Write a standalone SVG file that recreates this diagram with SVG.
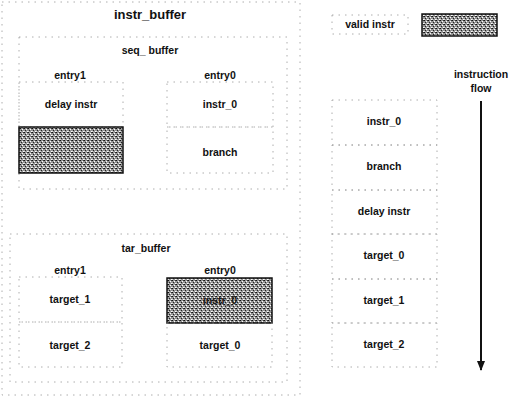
<svg xmlns="http://www.w3.org/2000/svg" width="516" height="398" viewBox="0 0 516 398">
<style>
  text { font-family: "Liberation Sans", Arial, sans-serif; font-weight: bold; fill: #111; text-anchor: middle; }
  .t { font-size: 10.5px; }
  .title { font-size: 13px; }
  .box { fill: none; stroke: #999; stroke-width: 0.8; stroke-dasharray: 1.5 5; }
  .gray { fill: url(#halftone); stroke: #111; stroke-width: 1.5; }
</style>
<defs>
  <pattern id="halftone" width="4" height="4" patternUnits="userSpaceOnUse">
    <rect width="4" height="4" fill="#959595"/>
    <rect x="0" y="0" width="1" height="1" fill="#111"/>
    <rect x="2" y="1" width="1" height="1" fill="#fff"/>
    <rect x="1" y="2" width="1" height="1" fill="#222"/>
    <rect x="3" y="3" width="1" height="1" fill="#fff"/>
    <rect x="3" y="0" width="1" height="1" fill="#333"/>
    <rect x="0" y="3" width="1" height="1" fill="#ddd"/>
  </pattern>
  <marker id="arrow" viewBox="0 0 10 10" refX="9" refY="5" markerWidth="5" markerHeight="5" orient="auto">
    <path d="M0,1 L10,5 L0,9 Z" fill="#111"/>
  </marker>
</defs>

<g id="instr_buffer">
  <rect class="box" x="2" y="2" width="298" height="393"/>
  <text class="title" x="150" y="19">instr_buffer</text>
</g>

<g id="seq_buffer">
  <rect class="box" x="19" y="37" width="268" height="152"/>
  <text class="t" x="150" y="54">seq_ buffer</text>
  <text class="t" x="70" y="79">entry1</text>
  <text class="t" x="220" y="79">entry0</text>
</g>
<g id="seq_entry1">
  <rect class="box" x="19" y="82" width="104" height="45"/>
  <text class="t" x="71" y="108">delay instr</text>
  <rect class="gray" x="19" y="127" width="104" height="46"/>
</g>
<g id="seq_entry0">
  <rect class="box" x="167" y="82" width="106" height="45"/>
  <text class="t" x="220" y="108">instr_0</text>
  <rect class="box" x="167" y="127" width="106" height="46"/>
  <text class="t" x="220" y="156">branch</text>
</g>

<g id="tar_buffer">
  <rect class="box" x="10" y="234" width="277" height="148"/>
  <text class="t" x="146" y="252">tar_buffer</text>
  <text class="t" x="70" y="274">entry1</text>
  <text class="t" x="220" y="274">entry0</text>
</g>
<g id="tar_entry1">
  <rect class="box" x="19" y="277" width="103" height="45"/>
  <text class="t" x="70" y="303">target_1</text>
  <rect class="box" x="19" y="322" width="103" height="45"/>
  <text class="t" x="70" y="349">target_2</text>
</g>
<g id="tar_entry0">
  <rect class="gray" x="167" y="278" width="105" height="45"/>
  <text class="t" x="220" y="304" style="fill:#1a1a1a">instr_0</text>
  <rect class="box" x="167" y="323" width="105" height="44"/>
  <text class="t" x="220" y="349">target_0</text>
</g>

<g id="legend_valid">
  <rect class="box" x="332" y="15" width="76" height="19"/>
  <text class="t" x="370" y="28">valid instr</text>
</g>
<g id="legend_gray">
  <rect class="gray" x="422" y="14" width="75" height="22"/>
</g>

<g id="flow_column">
  <rect class="box" x="332" y="100" width="105" height="45"/>
  <text class="t" x="384" y="125">instr_0</text>
  <rect class="box" x="332" y="145" width="105" height="45"/>
  <text class="t" x="384" y="170">branch</text>
  <rect class="box" x="332" y="190" width="105" height="44"/>
  <text class="t" x="384" y="215">delay instr</text>
  <rect class="box" x="332" y="234" width="105" height="45"/>
  <text class="t" x="384" y="259">target_0</text>
  <rect class="box" x="332" y="279" width="105" height="44"/>
  <text class="t" x="384" y="304">target_1</text>
  <rect class="box" x="332" y="323" width="105" height="44"/>
  <text class="t" x="384" y="348">target_2</text>
</g>

<g id="flow_label">
  <text class="t" x="481" y="78">instruction</text>
  <text class="t" x="481" y="92">flow</text>
</g>

<g id="connectors">
  <line x1="481" y1="101" x2="481" y2="370" stroke="#111" stroke-width="2" marker-end="url(#arrow)"/>
</g>
</svg>
